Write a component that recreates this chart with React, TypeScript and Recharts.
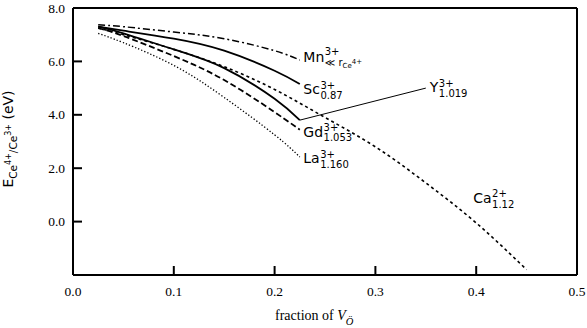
import React from "react";
import {
  LineChart, Line, XAxis, YAxis, ReferenceLine, ReferenceDot,
} from "recharts";

// fraction of oxygen vacancies
const xShort = [0.025, 0.05, 0.1, 0.15, 0.2, 0.225];
const xCa = [0.025, 0.05, 0.1, 0.15, 0.2, 0.25, 0.3, 0.35, 0.4, 0.45];

// E(Ce4+/Ce3+) in eV
const mnE = [7.37, 7.3, 7.1, 6.85, 6.4, 6.05];
const scE = [7.3, 7.15, 6.85, 6.4, 5.65, 5.15];
const yE = [7.3, 7.05, 6.45, 5.75, 4.6, 3.8];
const gdE = [7.25, 6.95, 6.2, 5.3, 4.1, 3.44];
const laE = [7.05, 6.7, 5.85, 4.65, 3.25, 2.42];
const caE = [7.25, 7.0, 6.45, 5.8, 4.95, 3.9, 2.8, 1.45, -0.05, -1.8];

const xTicks = [0, 0.1, 0.2, 0.3, 0.4, 0.5];
const yTicks = [0, 2, 4, 6, 8];
const xDomain = [0, 0.5];
const yDomain = [-2, 8];
const yLeaderEnd = { x: 0.35, y: 5.0 };

const toPts = (xs: number[], ys: number[]) => xs.map((x, i) => ({ x, e: ys[i] }));

const mn = toPts(xShort, mnE);
const sc = toPts(xShort, scE);
const yy = toPts(xShort, yE);
const gd = toPts(xShort, gdE);
const la = toPts(xShort, laE);
const ca = toPts(xCa, caE);

const SANS = "'DejaVu Sans', sans-serif";
const SERIF = "'Liberation Serif', 'Times New Roman', serif";
const TICK = 9;
const TICK_W = 2;

// DejaVu Sans advance widths (em)
const GW: Record<string, number> = {
  M: 0.863, n: 0.634, S: 0.635, c: 0.55, G: 0.775, d: 0.635,
  L: 0.557, a: 0.613, Y: 0.611, C: 0.698,
};
const textW = (s: string, size: number) =>
  s.split("").reduce((w, ch) => w + (GW[ch] ?? 0.6), 0) * size;

function ChemLabel(props: any) {
  const { cx, cy, main, sup, sub, dx = 3.5, dy = 0, supDy = -5.5, subDy = 4.5 } = props;
  const x = cx + dx;
  const y = cy + dy;
  const w = textW(main, 14) + 0.5;
  return (
    <g fontFamily={SANS} fill="#000">
      <text x={x} y={y} fontSize={14}>{main}</text>
      <text x={x + w} y={y + supDy} fontSize={10}>{sup}</text>
      <text x={x + w} y={y + subDy} fontSize={10}>{sub}</text>
    </g>
  );
}

// tick callbacks: inward tick mark (gnuplot style) plus the label
function BottomTick({ x, y, payload }: any) {
  return (
    <g>
      <path d={`M${x},${y}V${y - TICK}`} stroke="#000" strokeWidth={TICK_W} fill="none" />
      <text x={x} y={y + 21} textAnchor="middle" fontFamily={SERIF} fontSize={13.5} fill="#000">
        {payload.value.toFixed(1)}
      </text>
    </g>
  );
}
function LeftTick({ x, y, payload }: any) {
  return (
    <g>
      <path d={`M${x},${y}H${x + TICK}`} stroke="#000" strokeWidth={TICK_W} fill="none" />
      <text x={x - 8} y={y + 4.5} textAnchor="end" fontFamily={SERIF} fontSize={13.5} fill="#000">
        {payload.value.toFixed(1)}
      </text>
    </g>
  );
}
function TopTick({ x, y }: any) {
  return <path d={`M${x},${y}V${y + TICK}`} stroke="#000" strokeWidth={TICK_W} fill="none" />;
}
function RightTick({ x, y }: any) {
  return <path d={`M${x},${y}H${x - TICK}`} stroke="#000" strokeWidth={TICK_W} fill="none" />;
}

function YTitle() {
  const cx = 13;
  const cy = 139;
  return (
    <text
      x={cx} y={cy} textAnchor="middle" fontFamily={SANS} fontSize={14}
      fill="#000" transform={`rotate(-90, ${cx}, ${cy})`}
    >
      <tspan>E</tspan>
      <tspan fontSize={10.5} dy={4}>Ce</tspan>
      <tspan fontSize={8} dy={-6}>4+</tspan>
      <tspan fontSize={10.5} dy={6}>/Ce</tspan>
      <tspan fontSize={8} dy={-6}>3+</tspan>
      <tspan dy={2}>{"\u00a0(eV)"}</tspan>
    </text>
  );
}

function XTitle(props: any) {
  const vb = props.viewBox || { x: 73, width: 504 };
  const cx = vb.x + vb.width / 2;
  return (
    <text x={cx - 50} y={320} fontSize={14} fill="#000" fontFamily={SERIF}>
      fraction of <tspan fontStyle="italic">V</tspan>
      <tspan fontStyle="italic" fontSize={10.5} dy={5}>{"\u00d6"}</tspan>
    </text>
  );
}

export default function App() {
  const last = xShort.length - 1;
  const lineProps = {
    type: "natural" as const, dataKey: "e", stroke: "#000",
    dot: false, isAnimationActive: false, activeDot: false,
  };
  const axisLine = { stroke: "#000", strokeWidth: 2 };
  return (
    <div style={{ position: "absolute", left: 0, top: 0, background: "#fff" }}>
      <LineChart width={587} height={328} margin={{ top: 7, right: 9, bottom: 23, left: 0 }}>
        <XAxis
          xAxisId={0} type="number" dataKey="x" domain={xDomain} ticks={xTicks}
          interval={0} allowDataOverflow height={30}
          tickSize={0} tickMargin={0} tickLine={false}
          tick={<BottomTick />}
          axisLine={axisLine}
          label={(p: any) => <XTitle {...p} />}
        />
        <XAxis
          xAxisId="top" orientation="top" type="number" dataKey="x" domain={xDomain}
          ticks={xTicks} interval={0} height={1} tickSize={0} tickMargin={0} tickLine={false}
          tick={<TopTick />}
          axisLine={axisLine}
        />
        <YAxis
          yAxisId={0} type="number" domain={yDomain} ticks={yTicks} interval={0}
          allowDataOverflow width={73} tickSize={0} tickMargin={0} tickLine={false}
          tick={<LeftTick />}
          axisLine={axisLine}
          label={() => <YTitle />}
        />
        <YAxis
          yAxisId="right" orientation="right" type="number" domain={yDomain}
          ticks={yTicks} interval={0} width={1} tickSize={0} tickMargin={0} tickLine={false}
          tick={<RightTick />}
          axisLine={axisLine}
        />

        <Line {...lineProps} data={ca} strokeWidth={1.6} strokeDasharray="3 3" />
        <Line {...lineProps} data={la} strokeWidth={1.3} strokeDasharray="1.3 2" />
        <Line {...lineProps} data={gd} strokeWidth={1.8} strokeDasharray="6 3" />
        <Line {...lineProps} data={yy} strokeWidth={1.8} />
        <Line {...lineProps} data={sc} strokeWidth={1.8} />
        <Line {...lineProps} data={mn} strokeWidth={1.5} strokeDasharray="7 3 2 3" />

        <ReferenceLine
          segment={[{ x: xShort[last], y: yE[last] }, yLeaderEnd]}
          stroke="#000" strokeWidth={1}
        />

        <ReferenceDot x={xShort[last]} y={mnE[last]} r={0}
          shape={(p: any) => (
            <ChemLabel {...p} main="Mn" sup="3+" dy={2} supDy={-7} subDy={4}
              sub={<>
                <tspan>{"\u226a r"}</tspan>
                <tspan fontSize={7} dy={2}>Ce</tspan>
                <tspan fontSize={7} dy={-4}>4+</tspan>
              </>}
            />
          )}
        />
        <ReferenceDot x={xShort[last]} y={scE[last]} r={0}
          shape={(p: any) => <ChemLabel {...p} main="Sc" sup="3+" sub="0.87" dy={10} />}
        />
        <ReferenceDot x={xShort[last]} y={gdE[last]} r={0}
          shape={(p: any) => <ChemLabel {...p} main="Gd" sup="3+" sub="1.053" dy={7} />}
        />
        <ReferenceDot x={xShort[last]} y={laE[last]} r={0}
          shape={(p: any) => <ChemLabel {...p} main="La" sup="3+" sub="1.160" dy={6.5} />}
        />
        <ReferenceDot x={yLeaderEnd.x} y={yLeaderEnd.y} r={0}
          shape={(p: any) => <ChemLabel {...p} main="Y" sup="3+" sub="1.019" dx={4} dy={4} />}
        />
        <ReferenceDot x={xCa[8]} y={caE[8]} r={0}
          shape={(p: any) => (
            <ChemLabel {...p} main="Ca" sup="2+" sub="1.12" dx={-3} dy={-20} supDy={-6} subDy={5.5} />
          )}
        />
      </LineChart>
    </div>
  );
}
